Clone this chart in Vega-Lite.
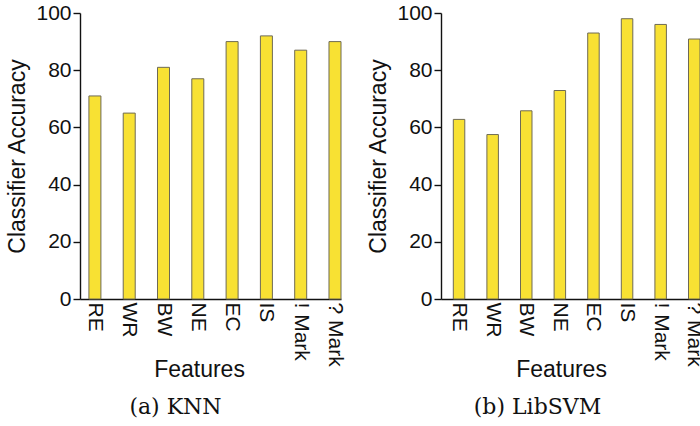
{
  "$schema": "https://vega.github.io/schema/vega-lite/v6.json",
  "padding": {"left": 6, "top": 2, "right": 0, "bottom": 0},
  "background": "white",
  "datasets": {
    "acc": [
      {"model": "KNN", "feature": "RE", "accuracy": 71},
      {"model": "KNN", "feature": "WR", "accuracy": 65},
      {"model": "KNN", "feature": "BW", "accuracy": 81},
      {"model": "KNN", "feature": "NE", "accuracy": 77},
      {"model": "KNN", "feature": "EC", "accuracy": 90},
      {"model": "KNN", "feature": "IS", "accuracy": 92},
      {"model": "KNN", "feature": "! Mark", "accuracy": 87},
      {"model": "KNN", "feature": "? Mark", "accuracy": 90},
      {"model": "LibSVM", "feature": "RE", "accuracy": 62.8},
      {"model": "LibSVM", "feature": "WR", "accuracy": 57.5},
      {"model": "LibSVM", "feature": "BW", "accuracy": 65.8},
      {"model": "LibSVM", "feature": "NE", "accuracy": 72.9},
      {"model": "LibSVM", "feature": "EC", "accuracy": 93},
      {"model": "LibSVM", "feature": "IS", "accuracy": 98},
      {"model": "LibSVM", "feature": "! Mark", "accuracy": 96},
      {"model": "LibSVM", "feature": "? Mark", "accuracy": 90.9}
    ]
  },
  "spacing": 21,
  "hconcat": [
    {
      "width": 261,
      "height": 286,
      "data": {"name": "acc"},
      "transform": [{"filter": "datum.model === 'KNN'"}],
      "title": {"text": "(a) KNN", "orient": "bottom", "anchor": "middle", "dx": -35, "offset": 16},
      "mark": {"type": "bar", "fill": "#f8e133", "stroke": "#6e6a55", "strokeWidth": 1},
      "encoding": {
        "x": {
          "field": "feature", "type": "nominal", "sort": null,
          "scale": {"paddingInner": 0.65, "paddingOuter": 0.13, "align": 1},
          "axis": {"title": "Features", "titleX": 119, "titleY": 77, "titleBaseline": "alphabetic"}
        },
        "y": {
          "field": "accuracy", "type": "quantitative",
          "scale": {"domain": [0, 100], "nice": false},
          "axis": {"title": "Classifier Accuracy", "values": [0, 20, 40, 60, 80, 100]}
        }
      }
    },
    {
      "width": 259,
      "height": 286,
      "data": {"name": "acc"},
      "transform": [{"filter": "datum.model === 'LibSVM'"}],
      "title": {"text": "(b) LibSVM", "orient": "bottom", "anchor": "middle", "dx": -33, "offset": 16},
      "mark": {"type": "bar", "fill": "#f8e133", "stroke": "#6e6a55", "strokeWidth": 1},
      "encoding": {
        "x": {
          "field": "feature", "type": "nominal", "sort": null,
          "scale": {"paddingInner": 0.658, "paddingOuter": 0.183, "align": 1},
          "axis": {"title": "Features", "titleX": 120, "titleY": 77, "titleBaseline": "alphabetic"}
        },
        "y": {
          "field": "accuracy", "type": "quantitative",
          "scale": {"domain": [0, 100], "nice": false},
          "axis": {"title": "Classifier Accuracy", "values": [0, 20, 40, 60, 80, 100]}
        }
      }
    }
  ],
  "config": {
    "view": {"stroke": null},
    "font": "Liberation Sans",
    "axis": {
      "grid": false,
      "domainColor": "#111111",
      "domainWidth": 1.4,
      "tickColor": "#111111",
      "tickWidth": 1.4,
      "labelFont": "Liberation Sans",
      "labelFontSize": 21,
      "labelColor": "#111111",
      "titleFont": "Liberation Sans",
      "titleFontSize": 23,
      "titleFontWeight": "normal",
      "titleColor": "#111111"
    },
    "axisX": {"ticks": false, "labelAngle": 90, "labelPadding": 3},
    "axisY": {"tickSize": 7, "labelPadding": 2, "titlePadding": 6},
    "title": {"font": "DejaVu Serif", "fontSize": 22, "fontWeight": "normal", "color": "#111111"}
  }
}
